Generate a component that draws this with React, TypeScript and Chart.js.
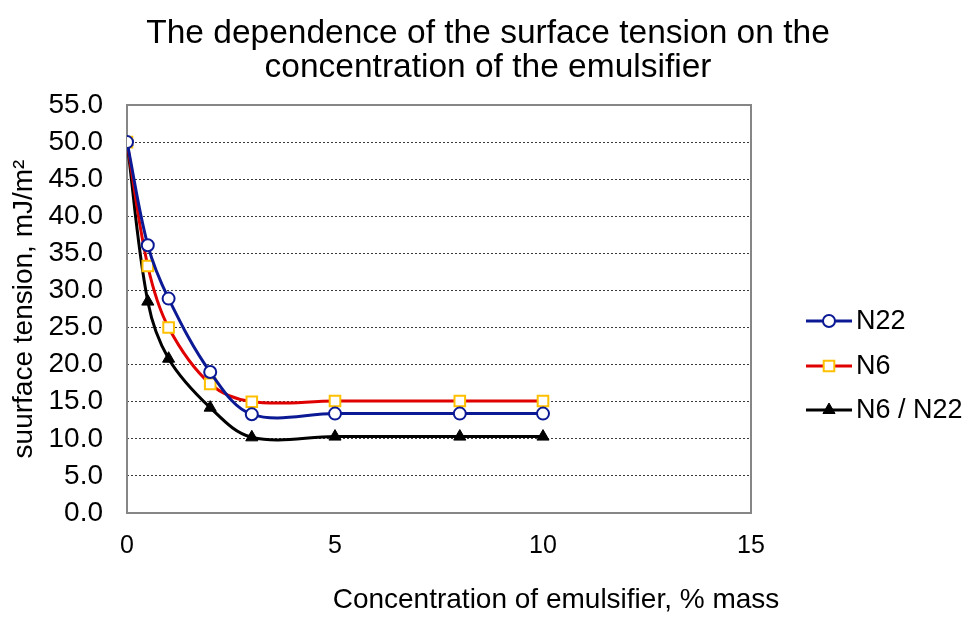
import React, { useEffect, useRef } from "react";
import { Chart, registerables } from "chart.js";

Chart.register(...registerables);

const concentration = [0, 0.5, 1, 2, 3, 5, 8, 10];
const n22 = [50.0, 36.1, 28.9, 19.0, 13.3, 13.4, 13.4, 13.4];
const n6 = [50.0, 33.3, 25.0, 17.4, 15.0, 15.1, 15.1, 15.1];
const n6n22 = [50.0, 28.5, 20.8, 14.2, 10.2, 10.3, 10.3, 10.3];
const seriesNames = ["N22", "N6", "N6 / N22"];
const titleLines = ["The dependence of the surface tension on the", "concentration of the emulsifier"];
const xTitle = "Concentration of emulsifier, % mass";
const yTitle = "suurface tension, mJ/m\u00B2";

const FONT = "'Liberation Sans', Arial, sans-serif";

function drawMarker(ctx: CanvasRenderingContext2D, style: string, x: number, y: number, r: number, fill: string, stroke: string, lw: number) {
  ctx.save();
  ctx.beginPath();
  if (style === "circle") {
    ctx.arc(x, y, r, 0, Math.PI * 2);
  } else if (style === "rect") {
    const s = r * Math.SQRT1_2;
    ctx.rect(x - s, y - s, 2 * s, 2 * s);
  } else if (style === "triangle") {
    const h = r * 1.5;
    const half = r * Math.sqrt(3) / 2;
    ctx.moveTo(x, y - r);
    ctx.lineTo(x + half, y - r + h);
    ctx.lineTo(x - half, y - r + h);
    ctx.closePath();
  }
  ctx.fillStyle = fill;
  ctx.fill();
  ctx.lineWidth = lw;
  ctx.strokeStyle = stroke;
  ctx.stroke();
  ctx.restore();
}

const decorPlugin = {
  id: "decor",
  beforeDatasetsDraw(chart: any) {
    const { ctx, chartArea } = chart;
    ctx.save();
    ctx.strokeStyle = "#868686";
    ctx.lineWidth = 2;
    ctx.strokeRect(chartArea.left, chartArea.top, chartArea.right - chartArea.left, chartArea.bottom - chartArea.top);
    ctx.restore();
  },
  afterDraw(chart: any) {
    const { ctx } = chart;
    ctx.save();
    ctx.fillStyle = "#000";
    ctx.textAlign = "center";
    ctx.textBaseline = "alphabetic";
    ctx.font = `33.5px ${FONT}`;
    ctx.fillText(titleLines[0], 488, 43);
    ctx.fillText(titleLines[1], 488, 77);
    ctx.font = `28px ${FONT}`;
    ctx.fillText(xTitle, 556, 608);
    // legend
    const ys = [321, 366, 410];
    chart.data.datasets.forEach((ds: any, i: number) => {
      const y = ys[i];
      ctx.beginPath();
      ctx.moveTo(806, y);
      ctx.lineTo(852, y);
      ctx.lineWidth = 3;
      ctx.strokeStyle = ds.borderColor;
      ctx.stroke();
      drawMarker(ctx, ds.pointStyle, 829, y, ds.pointRadius, ds.pointBackgroundColor, ds.pointBorderColor, ds.pointBorderWidth);
      ctx.fillStyle = "#000";
      ctx.textAlign = "left";
      ctx.textBaseline = "middle";
      ctx.font = `27px ${FONT}`;
      ctx.fillText(ds.label, 856, y + 1);
    });
    ctx.restore();
  },
};

export default function App() {
  const ref = useRef<HTMLCanvasElement | null>(null);
  useEffect(() => {
    if (!ref.current) return;
    const mk = (vals: number[]) => concentration.map((x, i) => ({ x, y: vals[i] }));
    const chart = new Chart(ref.current, {
      type: "line",
      data: {
        datasets: [
          {
            label: seriesNames[0],
            data: mk(n22),
            borderColor: "#0b1a94",
            borderWidth: 3,
            pointStyle: "circle",
            pointRadius: 6,
            pointBackgroundColor: "#ffffff",
            pointBorderColor: "#0b1a94",
            pointBorderWidth: 2,
            tension: 0.35,
          },
          {
            label: seriesNames[1],
            data: mk(n6),
            borderColor: "#e00000",
            borderWidth: 3,
            pointStyle: "rect",
            pointRadius: 7.5,
            pointBackgroundColor: "#ffffff",
            pointBorderColor: "#ffc000",
            pointBorderWidth: 2,
            tension: 0.35,
          },
          {
            label: seriesNames[2],
            data: mk(n6n22),
            borderColor: "#000000",
            borderWidth: 3,
            pointStyle: "triangle",
            pointRadius: 7,
            pointBackgroundColor: "#000000",
            pointBorderColor: "#000000",
            pointBorderWidth: 1,
            tension: 0.35,
          },
        ],
      },
      options: {
        animation: false,
        responsive: false,
        layout: { padding: { top: 105, right: 219, left: 0, bottom: 0 } },
        plugins: { legend: { display: false }, title: { display: false }, tooltip: { enabled: false } },
        scales: {
          x: {
            type: "linear",
            min: 0,
            max: 15,
            grid: { display: false, drawTicks: false },
            border: { display: false },
            ticks: { stepSize: 5, padding: 18, color: "#000", font: { family: FONT, size: 25 } },
            afterFit: (s: any) => { s.height = 104; },
          },
          y: {
            min: 0,
            max: 55,
            grid: { display: true, drawTicks: false, color: "#3a3a3a", lineWidth: 1 },
            border: { display: false, dash: [2, 2] },
            ticks: {
              stepSize: 5,
              padding: 24,
              color: "#000",
              font: { family: FONT, size: 28 },
              callback: (v: any) => Number(v).toFixed(1),
            },
            title: { display: true, text: yTitle, color: "#000", font: { family: FONT, size: 28 }, padding: { top: 7, bottom: 0 } },
            afterFit: (s: any) => { s.width = 127; },
          },
        },
      },
      plugins: [decorPlugin],
    });
    return () => chart.destroy();
  }, []);
  return (
    <div style={{ position: "absolute", left: 0, top: 0, width: 970, height: 617, background: "#fff" }}>
      <canvas ref={ref} width={970} height={617} style={{ display: "block" }} />
    </div>
  );
}
